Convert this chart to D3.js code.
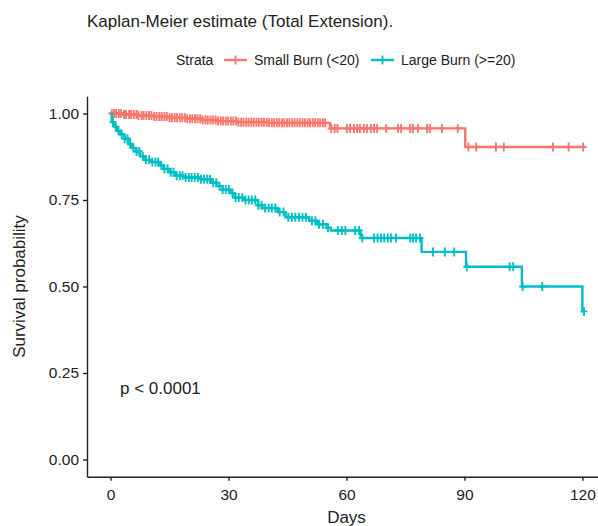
<!DOCTYPE html>
<html>
<head>
<meta charset="utf-8">
<script src="https://cdn.jsdelivr.net/npm/d3@7"></script>
<style>
  body { margin: 0; background: #fff; }
  svg { display: block; font-family: "Liberation Sans", Arial, sans-serif; }
</style>
</head>
<body>
<svg id="chart" width="598" height="526"></svg>
<script>
// KM step data: [day, survival]
var smallSteps = [[0, 1.0], [3, 0.997], [7, 0.994], [11, 0.991], [15, 0.988], [19, 0.985], [23, 0.981],
  [27, 0.978], [32, 0.975], [40, 0.973], [55.8, 0.957], [90.2, 0.903]]
var largeSteps = [[0, 1.0], [0.3, 0.975], [1, 0.962], [1.6, 0.95], [2.5, 0.94], [3.5, 0.927], [4.5, 0.912],
  [5.5, 0.9], [6.5, 0.89], [7.5, 0.876], [8.5, 0.866], [10, 0.86], [12.5, 0.85], [13.5, 0.84],
  [15, 0.83], [16.5, 0.82], [19, 0.815], [23, 0.81], [25.5, 0.8], [27, 0.79], [28.5, 0.78],
  [30.5, 0.77], [31.5, 0.757], [34, 0.75], [37.5, 0.735], [38.5, 0.727], [42.5, 0.715],
  [44.5, 0.7], [50.5, 0.69], [52.5, 0.68], [55, 0.67], [56, 0.662], [63.6, 0.64], [79.1, 0.6],
  [90.4, 0.557], [104.6, 0.5], [120, 0.428]]

// censored times (the + marks)
var smallCensor = [0.3, 0.9, 1.4, 2.1, 2.6, 3.4, 3.9, 4.7, 5.2, 5.9, 6.6, 7.1, 7.9, 8.4, 9.1, 9.8,
  10.4, 11.1, 11.7, 12.4, 13.0, 13.7, 14.3, 15.0, 15.6, 16.3, 16.9, 17.6, 18.2, 18.9, 19.5, 20.2,
  20.8, 21.5, 22.1, 22.8, 23.4, 24.1, 24.7, 25.4, 26.0, 26.7, 27.3, 28.0, 28.6, 29.3, 29.9, 30.6,
  31.2, 31.9, 32.5, 33.2, 33.8, 34.5, 35.1, 35.8, 36.4, 37.1, 37.7, 38.4, 39.0, 39.7, 40.3, 41.0,
  41.6, 42.3, 42.9, 43.6, 44.2, 44.9, 45.5, 46.2, 46.8, 47.5, 48.1, 48.8, 49.4, 50.1, 50.7, 51.4,
  52.0, 52.7, 53.3, 54.0, 54.6, 56.1, 57.0, 57.7, 60.1, 60.9, 61.9, 62.7, 63.4, 64.4, 65.2, 66.2,
  67.0, 67.8, 70.1, 73.1, 73.9, 76.2, 76.9, 78.2, 80.5, 81.2, 84.3, 88.3, 91.0, 93.0, 98.0,
  100.0, 112.5, 116.5, 120.2]
var largeCensor = [0.6, 1.3, 2.0, 2.8, 3.6, 4.3, 5.0, 5.8, 6.6, 7.3, 8.2, 9.0, 9.8, 10.6, 11.4,
  12.1, 12.9, 13.7, 14.5, 15.3, 16.0, 16.8, 17.6, 18.3, 19.1, 19.9, 20.6, 21.4, 22.2, 23.0, 23.8,
  24.6, 25.3, 26.1, 26.9, 27.7, 28.5, 29.3, 30.1, 31.0, 31.8, 32.6, 33.5, 34.3, 35.1, 35.9, 36.8,
  37.6, 38.4, 39.3, 40.2, 41.0, 41.9, 43.0, 44.0, 45.2, 46.1, 47.0, 47.9, 48.8, 49.7, 51.2, 52.1,
  53.0, 54.0, 55.3, 57.8, 58.8, 59.7, 62.2, 63.2, 64.0, 67.0, 67.9, 68.8, 69.6, 70.5, 71.3, 72.6,
  76.2, 76.9, 77.7, 78.7, 82.0, 85.0, 87.4, 90.6, 101.5, 102.4, 104.8, 109.8, 120.4]

var strata = ["Small Burn (<20)", "Large Burn (>=20)"]
var colors = ["#F8766D", "#00BFC4"]
var xTicks = [0, 30, 60, 90, 120]
var yTicks = [0, 0.25, 0.5, 0.75, 1]

var svg = d3.select("#chart")

// panel geometry (ggplot expansion: 5% on each side)
var x = d3.scaleLinear().domain([-6, 126]).range([87, 606])
var y = d3.scaleLinear().domain([-0.05, 1.05]).range([476.8, 96.2])
var endDay = 120.4

function survAt(steps, t) {
  var s = steps[0][1]
  steps.forEach(d => { if (d[0] <= t) s = d[1] })
  return s
}

var line = d3.line().curve(d3.curveStepAfter).x(d => x(d[0])).y(d => y(d[1]))

var series = [
  {name: strata[0], color: colors[0], steps: smallSteps, censor: smallCensor},
  {name: strata[1], color: colors[1], steps: largeSteps, censor: largeCensor}
]

var plot = svg.append("g")

series.forEach(s => {
  var pts = s.steps.concat([[endDay, s.steps[s.steps.length - 1][1]]])
  plot.append("path")
    .attr("d", line(pts))
    .attr("fill", "none")
    .attr("stroke", s.color)
    .attr("stroke-width", 2.4)

  plot.append("g")
    .selectAll("path")
    .data(s.censor)
    .join("path")
    .attr("transform", d => "translate(" + x(d) + "," + y(survAt(s.steps, d)) + ")")
    .attr("d", "M-3.5,0H3.5M0,-4.5V4.5")
    .attr("stroke", s.color)
    .attr("stroke-width", 1.9)
    .attr("fill", "none")
})

// axes
var xAxis = svg.append("g")
  .attr("transform", "translate(0," + y(-0.05) + ")")
  .call(d3.axisBottom(x).tickValues(xTicks).tickSize(4).tickPadding(4).tickSizeOuter(0))
var yAxis = svg.append("g")
  .attr("transform", "translate(" + x(-6) + ",0)")
  .call(d3.axisLeft(y).tickValues(yTicks).tickFormat(d3.format(".2f")).tickSize(4).tickPadding(4).tickSizeOuter(0))

;[xAxis, yAxis].forEach(a => {
  a.select(".domain").attr("stroke", "#222").attr("stroke-width", 1.4)
  a.selectAll(".tick line").attr("stroke", "#222").attr("stroke-width", 1.4)
  a.selectAll(".tick text").attr("fill", "#222").style("font-size", "15.5px")
})
xAxis.selectAll(".tick text").attr("dy", "0.95em")

// axis titles
svg.append("text")
  .attr("x", x(60)).attr("y", 523)
  .attr("text-anchor", "middle")
  .style("font-size", "17px").attr("fill", "#222")
  .text("Days")
svg.append("text")
  .attr("transform", "translate(25," + y(0.5) + ") rotate(-90)")
  .attr("text-anchor", "middle")
  .style("font-size", "17px").attr("fill", "#222")
  .text("Survival probability")

// p-value
svg.append("text")
  .attr("x", 120).attr("y", 394)
  .style("font-size", "17px").attr("fill", "#222")
  .text("p < 0.0001")

// title
svg.append("text")
  .attr("x", 87).attr("y", 27)
  .style("font-size", "17px").attr("fill", "#222")
  .text("Kaplan-Meier estimate (Total Extension).")

// legend
var legend = svg.append("g").attr("transform", "translate(0,60)")
legend.append("text")
  .attr("x", 176).attr("dy", "0.35em")
  .style("font-size", "14px").attr("fill", "#222")
  .text("Strata")

var keyX = [224, 371]
series.forEach((s, i) => {
  var g = legend.append("g").attr("transform", "translate(" + keyX[i] + ",0)")
  g.append("line").attr("x1", 0).attr("x2", 23)
    .attr("stroke", s.color).attr("stroke-width", 2.4)
  g.append("path").attr("d", "M11.5,-4.5V4.5").attr("stroke", s.color).attr("stroke-width", 1.9)
  g.append("text").attr("x", 30).attr("dy", "0.35em")
    .style("font-size", "14px").attr("fill", "#222")
    .text(s.name)
})
</script>
</body>
</html>
